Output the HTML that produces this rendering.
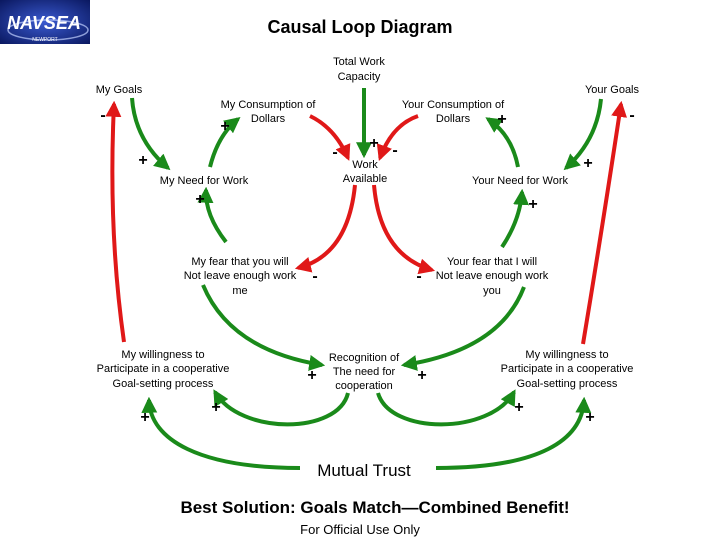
<!DOCTYPE html>
<html><head><meta charset="utf-8"><style>
html,body{margin:0;padding:0;background:#fff;}
svg{display:block;}
text{font-family:"Liberation Sans",Arial,sans-serif;fill:#000;}
.l{font-size:11px;text-anchor:middle;}
.s{font-size:16px;font-weight:bold;text-anchor:middle;}
.g{stroke:#1a8a1a;stroke-width:4;fill:none;}
.r{stroke:#e01818;stroke-width:4;fill:none;}
</style></head><body>
<svg width="720" height="540" viewBox="0 0 720 540" xmlns="http://www.w3.org/2000/svg">
<defs>
<marker id="ag" viewBox="0 0 10 10" refX="8" refY="5" markerWidth="4" markerHeight="4" orient="auto" markerUnits="strokeWidth"><path d="M0,0 L10,5 L0,10 z" fill="#1a8a1a"/></marker>
<marker id="ar" viewBox="0 0 10 10" refX="8" refY="5" markerWidth="4" markerHeight="4" orient="auto" markerUnits="strokeWidth"><path d="M0,0 L10,5 L0,10 z" fill="#e01818"/></marker>
<radialGradient id="lg" cx="0.5" cy="0.5" r="0.7"><stop offset="0" stop-color="#3a5ad0"/><stop offset="1" stop-color="#0a1860"/></radialGradient>
</defs>
<rect x="0" y="0" width="90" height="44" fill="url(#lg)"/>
<ellipse cx="48" cy="30" rx="40" ry="10" fill="none" stroke="#c0d0ff" stroke-width="1.5" opacity="0.7"/>
<text x="44" y="29" style="font-size:18px;font-weight:bold;font-style:italic;fill:#fff;text-anchor:middle">NAVSEA</text>
<text x="45" y="41" style="font-size:5px;fill:#fff;text-anchor:middle">NEWPORT</text>

<text x="360" y="33" style="font-size:18px;font-weight:bold;text-anchor:middle">Causal Loop Diagram</text>

<path class="r" d="M124,342 Q108,230 114,104" marker-end="url(#ar)"/>
<path class="g" d="M132,98 Q135,140 168,168" marker-end="url(#ag)"/>
<path class="g" d="M210,167 Q218,135 238,119" marker-end="url(#ag)"/>
<path class="r" d="M310,116 Q335,128 348,158" marker-end="url(#ar)"/>
<path class="g" d="M364,88 L364,155" marker-end="url(#ag)"/>
<path class="r" d="M418,116 Q392,125 380,158" marker-end="url(#ar)"/>
<path class="g" d="M518,167 Q512,135 488,119" marker-end="url(#ag)"/>
<path class="g" d="M601,99 Q597,140 566,168" marker-end="url(#ag)"/>
<path class="r" d="M583,344 Q602,230 621,104" marker-end="url(#ar)"/>
<path class="r" d="M355,185 Q348,255 298,268" marker-end="url(#ar)"/>
<path class="r" d="M374,185 Q380,255 432,270" marker-end="url(#ar)"/>
<path class="g" d="M226,242 Q205,215 206,190" marker-end="url(#ag)"/>
<path class="g" d="M502,247 Q520,220 522,192" marker-end="url(#ag)"/>
<path class="g" d="M203,285 Q230,350 322,365" marker-end="url(#ag)"/>
<path class="g" d="M524,287 Q500,350 404,365" marker-end="url(#ag)"/>
<path class="g" d="M348,393 C338,435 240,435 215,392" marker-end="url(#ag)"/>
<path class="g" d="M378,393 C390,435 490,435 514,392" marker-end="url(#ag)"/>
<path class="g" d="M300,468 C200,468 150,440 149,400" marker-end="url(#ag)"/>
<path class="g" d="M436,468 C540,468 582,440 584,400" marker-end="url(#ag)"/>

<text class="l" x="359" y="65">Total Work</text>
<text class="l" x="359" y="80">Capacity</text>
<text class="l" x="119" y="93">My Goals</text>
<text class="l" x="612" y="93">Your Goals</text>
<text class="l" x="268" y="108">My Consumption of</text>
<text class="l" x="268" y="122">Dollars</text>
<text class="l" x="453" y="108">Your Consumption of</text>
<text class="l" x="453" y="122">Dollars</text>
<text class="l" x="365" y="168">Work</text>
<text class="l" x="365" y="182">Available</text>
<text class="l" x="204" y="184">My Need for Work</text>
<text class="l" x="520" y="184">Your Need for Work</text>
<text class="l" x="240" y="265">My fear that you will</text>
<text class="l" x="240" y="279">Not leave enough work</text>
<text class="l" x="240" y="294">me</text>
<text class="l" x="492" y="265">Your fear that I will</text>
<text class="l" x="492" y="279">Not leave enough work</text>
<text class="l" x="492" y="294">you</text>
<text class="l" x="163" y="358">My willingness to</text>
<text class="l" x="163" y="372">Participate in a cooperative</text>
<text class="l" x="163" y="387">Goal-setting process</text>
<text class="l" x="567" y="358">My willingness to</text>
<text class="l" x="567" y="372">Participate in a cooperative</text>
<text class="l" x="567" y="387">Goal-setting process</text>
<text class="l" x="364" y="361">Recognition of</text>
<text class="l" x="364" y="375">The need for</text>
<text class="l" x="364" y="389">cooperation</text>

<text class="s" x="103" y="120">-</text>
<text class="s" x="143" y="165">+</text>
<text class="s" x="225" y="131">+</text>
<text class="s" x="200" y="204">+</text>
<text class="s" x="335" y="157">-</text>
<text class="s" x="374" y="148">+</text>
<text class="s" x="395" y="155">-</text>
<text class="s" x="502" y="124">+</text>
<text class="s" x="632" y="120">-</text>
<text class="s" x="588" y="168">+</text>
<text class="s" x="533" y="209">+</text>
<text class="s" x="315" y="281">-</text>
<text class="s" x="419" y="281">-</text>
<text class="s" x="312" y="380">+</text>
<text class="s" x="422" y="380">+</text>
<text class="s" x="216" y="412">+</text>
<text class="s" x="145" y="422">+</text>
<text class="s" x="519" y="412">+</text>
<text class="s" x="590" y="422">+</text>

<text x="364" y="476" style="font-size:17px;text-anchor:middle">Mutual Trust</text>
<text x="375" y="513" style="font-size:17px;font-weight:bold;text-anchor:middle">Best Solution: Goals Match—Combined Benefit!</text>
<text x="360" y="534" style="font-size:13px;text-anchor:middle">For Official Use Only</text>
</svg>
</body></html>
